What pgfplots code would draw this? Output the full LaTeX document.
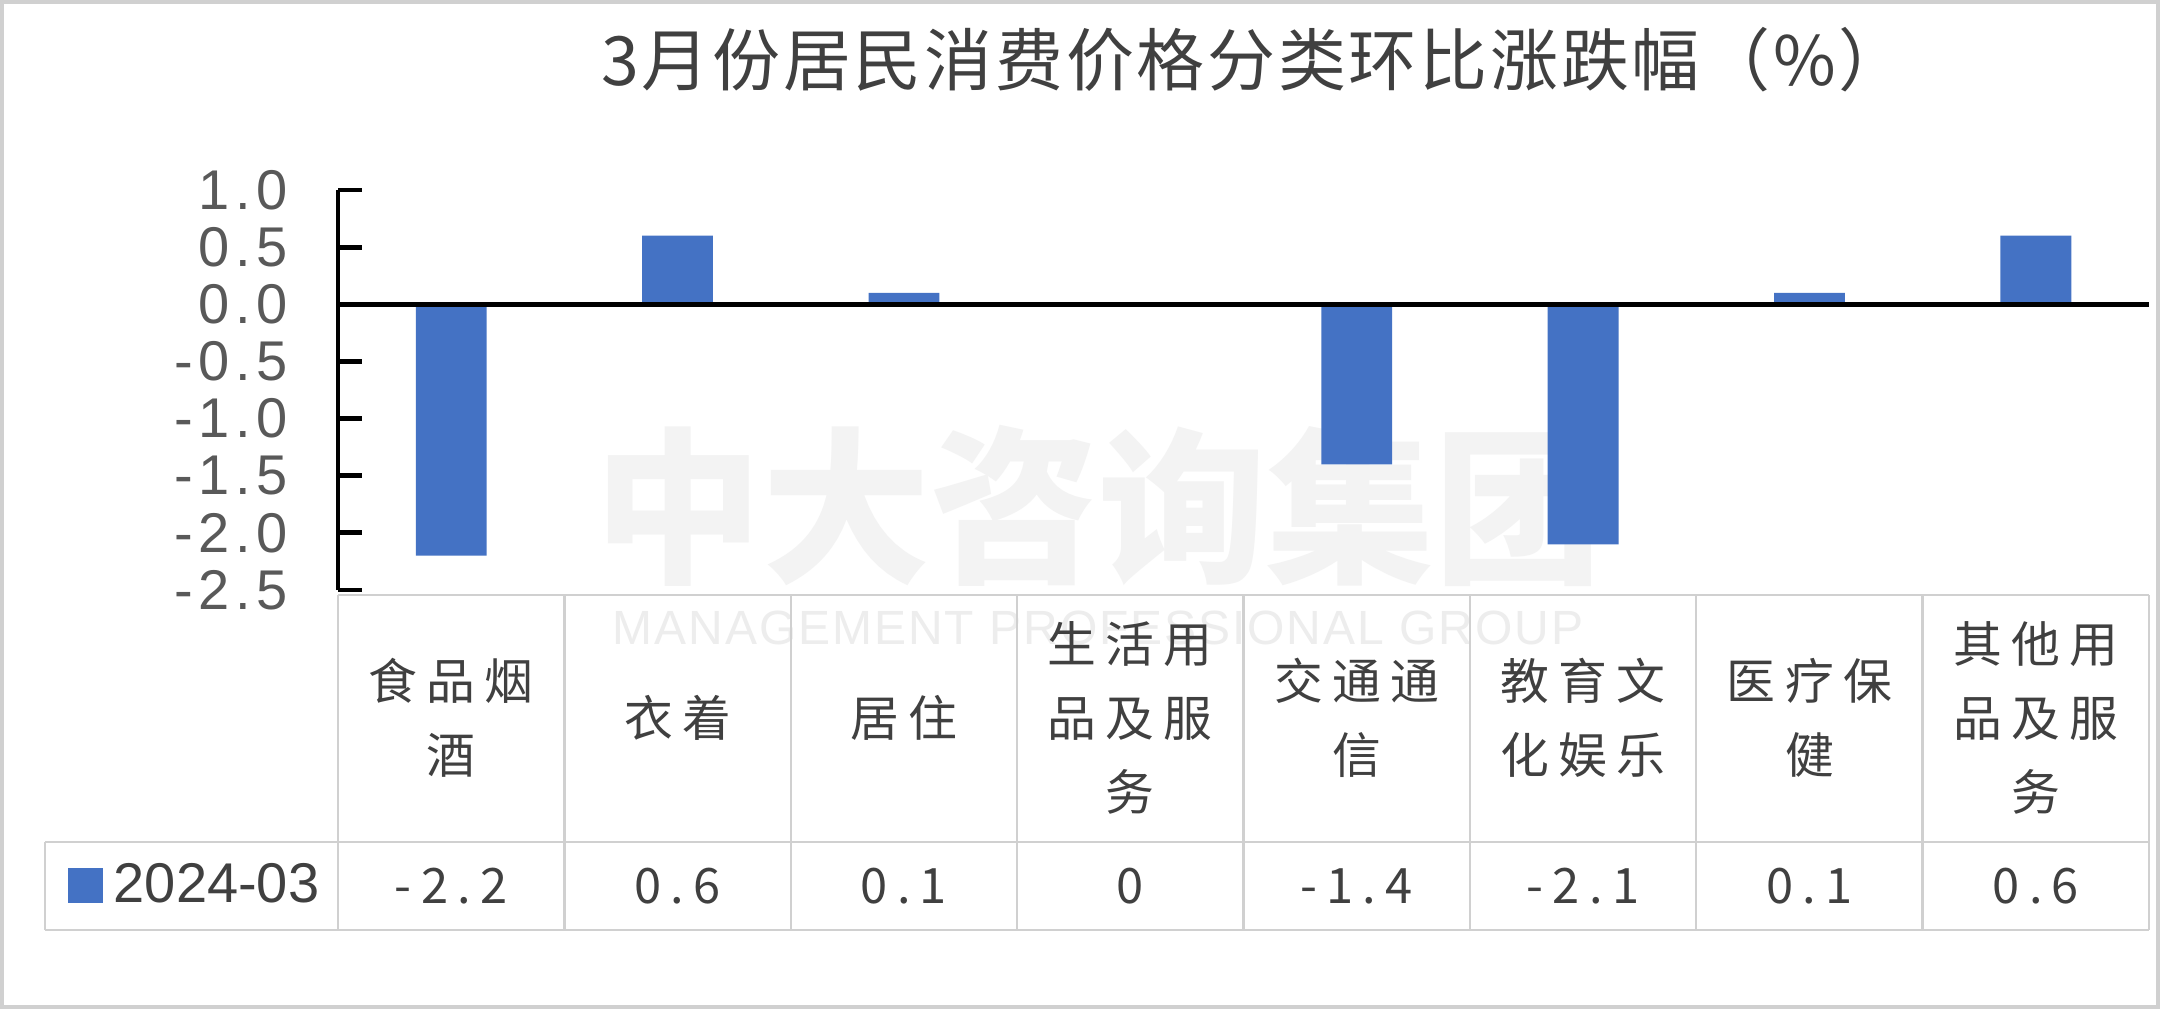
\documentclass[border=0pt]{standalone}
\usepackage{fontspec}
\usepackage{pgfplots}
\pgfplotsset{compat=1.18}
\setmainfont{Liberation Sans}
\newfontfamily\cjk{Noto Sans CJK SC}
\newfontfamily\cjkcat[LetterSpace=19]{Noto Sans CJK SC}
\newfontfamily\cjktitle[LetterSpace=4]{Noto Sans CJK SC}
\newfontfamily\numfont[LetterSpace=10]{Liberation Sans}
\newfontfamily\valfont[LetterSpace=10]{Liberation Sans}
\newfontfamily\wmfont[LetterSpace=4]{Liberation Sans}
\definecolor{barblue}{HTML}{4472C4}
\definecolor{textdark}{HTML}{404040}
\definecolor{ticktext}{HTML}{595959}
\definecolor{gridgray}{HTML}{D0D0D0}
\definecolor{wmark}{HTML}{F3F3F3}
\definecolor{wmarktext}{HTML}{EDEDED}

\begin{document}
\begin{tikzpicture}
% page: 2160 x 1009 px at 0.25pt per px
\fill[white] (0,0) rectangle (540pt,252.25pt);
\draw[gridgray, line width=1pt] (0.5pt,0.5pt) rectangle (539.5pt,251.75pt);

% watermark (one node, two lines)
\node[inner sep=0pt, anchor=south, align=center, font=\wmfont\fontsize{12pt}{18.5pt}\selectfont]
  at (274.5pt,90.8pt)
  {{\cjk\bfseries\fontsize{42pt}{18.5pt}\selectfont\color{wmark}中大咨询集团}\\
   {\color{wmarktext}MANAGEMENT PROFESSIONAL GROUP}};

% title
\node[text=textdark, font=\cjktitle\fontsize{17pt}{17pt}\selectfont] at (313.5pt,237.25pt) {3月份居民消费价格分类环比涨跌幅（\%）};

% data table grid
\begin{scope}[gridgray, line width=0.6pt]
\draw (84.5pt,103.5pt) -- (537.25pt,103.5pt);
\draw (11.25pt,41.75pt) -- (537.25pt,41.75pt);
\draw (11.25pt,19.75pt) -- (537.25pt,19.75pt);
\draw (11.25pt,19.75pt) -- (11.25pt,41.75pt);
\foreach \k in {0,...,8}
  \draw ({84.5pt+\k*56.594pt},19.75pt) -- ({84.5pt+\k*56.594pt},103.5pt);
\end{scope}

\begin{axis}[
    at={(84.5pt,104.75pt)}, anchor=south west,
    scale only axis,
    width=452.75pt, height=100pt,
    xmin=-0.5, xmax=7.5, ymin=-2.5, ymax=1,
    axis x line=bottom, axis y line=left,
    x axis line style={draw=none},
    y axis line style={-, black, line width=1.2pt},
    tick align=inside,
    major tick length=6pt,
    y tick style={black, line width=1.2pt},
    x tick style={draw=none},
    ytick={-2.5,-2,-1.5,-1,-0.5,0,0.5,1},
    yticklabel style={font=\numfont\fontsize{14pt}{14pt}\selectfont, text=ticktext, xshift=-9pt,
        /pgf/number format/.cd, fixed, fixed zerofill, precision=1, assume math mode=true},
    xtick={0,...,7},
    xticklabels={{食品烟\\酒},{衣着},{居住},{生活用\\品及服\\务},{交通通\\信},{教育文\\化娱乐},{医疗保\\健},{其他用\\品及服\\务}},
    xticklabel style={font=\cjkcat\fontsize{12.2pt}{18.5pt}\selectfont, text=textdark, align=center, anchor=center, yshift=-32pt},
    extra x ticks={0,...,7},
    extra x tick labels={-2.2,0.6,0.1,0,-1.4,-2.1,0.1,0.6},
    extra x tick style={major tick length=0pt, tick label style={font=\valfont\fontsize{14pt}{14pt}\selectfont, yshift=-42pt}},
    legend style={at={(rel axis cs:-0.14964,-0.73875)}, anchor=west, draw=none, fill=none,
        inner sep=0pt, font=\fontsize{14pt}{14pt}\selectfont, text=textdark, nodes={inner sep=0pt}},
    clip=false,
]
\addplot[ybar, bar width=0.313, fill=barblue, draw=none,
    legend image code/.code={\fill[barblue] (0pt,-4.375pt) rectangle (8.75pt,4.375pt); \path (11.5pt,0pt);}]
    coordinates {(0,-2.2) (1,0.6) (2,0.1) (3,0) (4,-1.4) (5,-2.1) (6,0.1) (7,0.6)};
\addlegendentry{2024-03}
\draw[black, line width=1.2pt] (axis cs:-0.5,0) -- (axis cs:7.5,0);
\end{axis}
\end{tikzpicture}
\end{document}
